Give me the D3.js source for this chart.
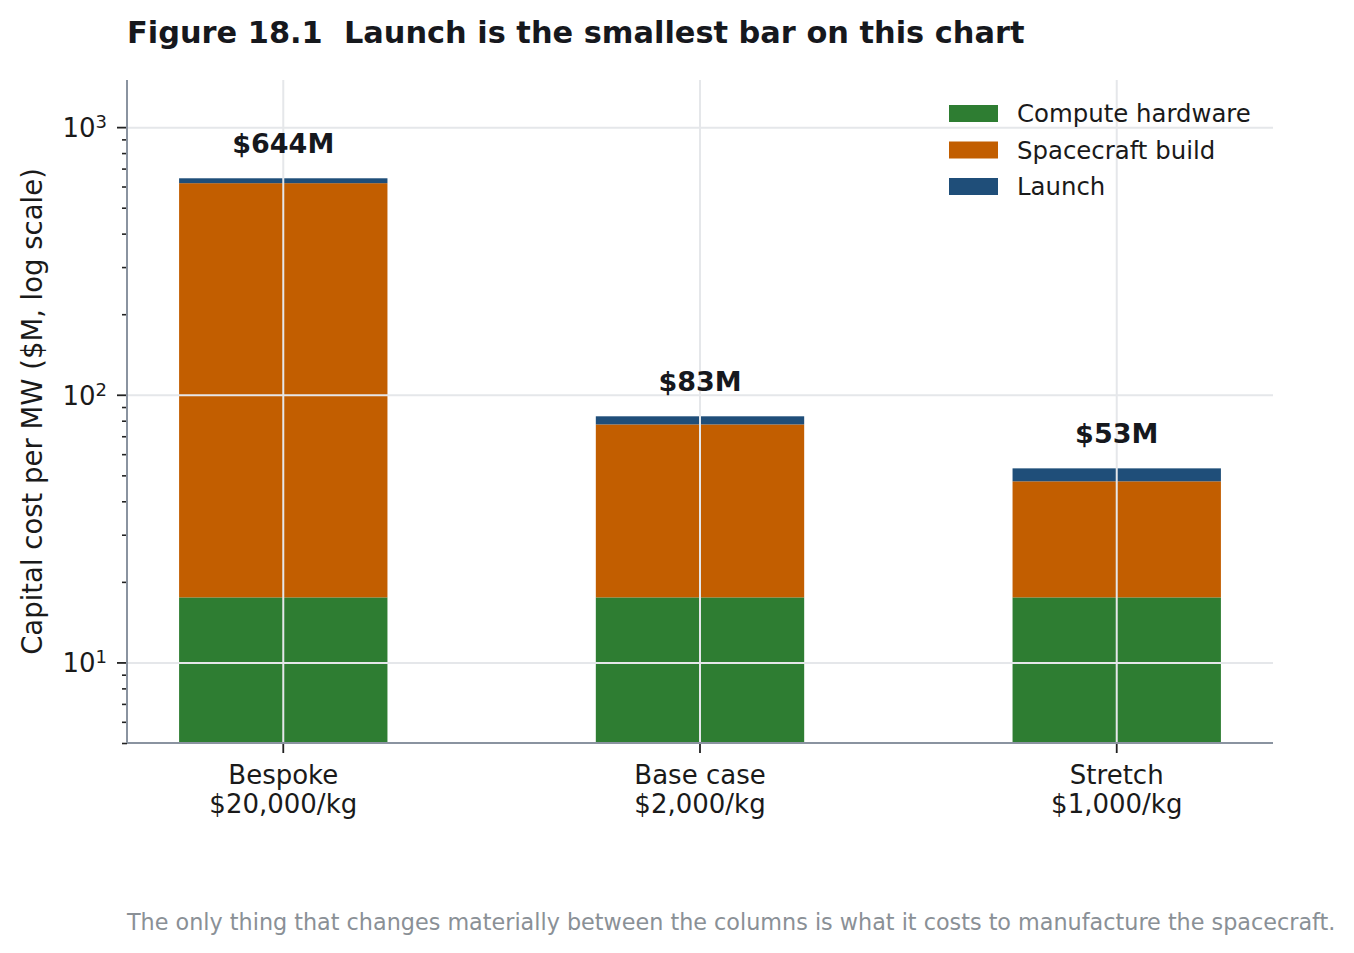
<!DOCTYPE html>
<html>
<head>
<meta charset="utf-8">
<script src="https://cdn.jsdelivr.net/npm/d3@7"></script>
<style>
  body { margin: 0; background: #fff; }
  svg, svg text { font-family: "DejaVu Sans", sans-serif; }
  svg { display: block; }
  .spine { stroke: #8a93a0; stroke-width: 2; }
  .gridline { stroke: #e5e7ea; stroke-width: 2; }
</style>
</head>
<body>
<div id="chart"></div>
<script>
// Figure 18.1 – stacked capital cost per MW, log y

const categories = ["Bespoke", "Base case", "Stretch"];
const priceLabels = ["$20,000/kg", "$2,000/kg", "$1,000/kg"];
const computeHw = [17.5, 17.5, 17.5];
const spacecraftBuild = [600, 60, 30];
const launchCost = [26.5, 5.6, 5.6];
const totalLabels = ["$644M", "$83M", "$53M"];

const seriesKeys = ["compute", "spacecraft", "launch"];
const seriesNames = ["Compute hardware", "Spacecraft build", "Launch"];
const seriesColors = ["#2e7d32", "#c25e00", "#1f4e79"];

const yMajor = [10, 100, 1000];

// dims
const FW = 1354, FH = 953;
const M = { left: 127, right: 81, top: 80, bottom: 210 };
const W = FW - M.left - M.right;
const H = FH - M.top - M.bottom;
const FONT = "'DejaVu Sans', sans-serif";

const color = d3.scaleOrdinal().domain(seriesKeys).range(seriesColors);

const rows = categories.map((c, i) => ({
  cat: c,
  compute: computeHw[i],
  spacecraft: spacecraftBuild[i],
  launch: launchCost[i],
  total: computeHw[i] + spacecraftBuild[i] + launchCost[i],
  label: totalLabels[i],
  price: priceLabels[i]
}));

const stacked = d3.stack().keys(seriesKeys)(rows);

const x = d3.scaleBand().domain(categories).range([0, W]).paddingInner(0.5).paddingOuter(0.125);
const y = d3.scaleLog().domain([5, 1500]).range([H, 0]).clamp(true);

const svg = d3.select("#chart").append("svg").attr("width", FW).attr("height", FH);

svg.append("text")
  .attr("x", M.left).attr("y", 43)
  .style("font-family", FONT).style("white-space", "pre")
  .style("font-size", "30.4px").style("font-weight", "bold").attr("fill", "#16181d")
  .text("Figure 18.1  Launch is the smallest bar on this chart");

const g = svg.append("g").attr("transform", `translate(${M.left},${M.top})`);

// bars
g.append("g").selectAll("g.layer").data(stacked).join("g")
  .attr("class", "layer")
  .attr("fill", d => color(d.key))
  .selectAll("rect").data(d => d).join("rect")
  .attr("x", d => x(d.data.cat))
  .attr("width", x.bandwidth())
  .attr("y", d => y(d[1]))
  .attr("height", d => y(d[0]) - y(d[1]));

// gridlines on top of bars
g.append("g").attr("class", "grid-y")
  .call(d3.axisLeft(y).tickValues(yMajor).tickSize(-W).tickFormat(""))
  .call(s => s.select(".domain").remove())
  .selectAll("line").attr("class", "gridline");
g.append("g").attr("class", "grid-x").attr("transform", `translate(0,${H})`)
  .call(d3.axisBottom(x).tickSize(-H).tickFormat(""))
  .call(s => s.select(".domain").remove())
  .selectAll("line").attr("class", "gridline");

// total labels
g.append("g").selectAll("text").data(rows).join("text")
  .attr("x", d => x(d.cat) + x.bandwidth() / 2)
  .attr("y", d => y(d.total * 1.24))
  .attr("text-anchor", "middle")
  .style("font-family", FONT)
  .style("font-size", "27px").style("font-weight", "bold").attr("fill", "#16181d")
  .text(d => d.label);

// y axis: minor ticks
const minors = [];
[1, 10, 100, 1000].forEach(dec => d3.range(2, 10).forEach(k => {
  const v = dec * k;
  if (v >= 5 && v <= 1500) minors.push(v);
}));
g.append("g").attr("class", "y-minor")
  .call(d3.axisLeft(y).tickValues(minors).tickSize(5).tickFormat(""))
  .call(s => s.select(".domain").remove())
  .selectAll("line").attr("stroke", "#222").attr("stroke-width", 1.6);

// y axis: majors with 10^n labels
const gY = g.append("g").attr("class", "y-axis")
  .call(d3.axisLeft(y).tickValues(yMajor).tickSize(10).tickFormat(""))
  .attr("font-family", null).attr("font-size", null);
gY.select(".domain").remove();
gY.selectAll(".tick line").attr("stroke", "#222").attr("stroke-width", 1.8);
gY.selectAll(".tick text").remove();
gY.selectAll(".tick").append("text")
  .attr("x", -20).attr("dy", "0.36em")
  .attr("text-anchor", "end")
  .attr("fill", "#1a1a1a")
  .style("font-family", FONT)
  .style("font-size", "26px")
  .call(t => {
    t.append("tspan").text("10");
    t.append("tspan").attr("dy", "-0.5em").style("font-size", "18px")
      .text(d => Math.round(Math.log10(d)));
  });

// x axis
const gX = g.append("g").attr("class", "x-axis").attr("transform", `translate(0,${H})`)
  .call(d3.axisBottom(x).tickSize(10).tickFormat(""))
  .attr("font-family", null).attr("font-size", null);
gX.select(".domain").remove();
gX.selectAll(".tick line").attr("stroke", "#222").attr("stroke-width", 1.8);
gX.selectAll(".tick text").remove();
gX.selectAll(".tick").each(function (d, i) {
  const t = d3.select(this).append("text")
    .attr("text-anchor", "middle").attr("fill", "#1a1a1a")
    .style("font-family", FONT)
    .style("font-size", "26px");
  t.append("tspan").attr("x", 0).attr("y", 41).text(d);
  t.append("tspan").attr("x", 0).attr("y", 70).text(rows[i].price);
});

// spines
g.append("line").attr("class", "spine").attr("x1", 0).attr("x2", 0).attr("y1", 0).attr("y2", H);
g.append("line").attr("class", "spine").attr("x1", 0).attr("x2", W).attr("y1", H).attr("y2", H);

// y label
svg.append("text")
  .attr("transform", `translate(42,${M.top + H / 2}) rotate(-90)`)
  .attr("text-anchor", "middle").attr("fill", "#1a1a1a")
  .style("font-family", FONT)
  .style("font-size", "27.5px")
  .text("Capital cost per MW ($M, log scale)");

// legend
const legend = g.append("g").attr("class", "legend").attr("transform", `translate(${W - 324},25)`);
const items = legend.selectAll("g.item").data(seriesKeys).join("g")
  .attr("class", "item")
  .attr("transform", (d, i) => `translate(0,${i * 36.5})`);
items.append("rect").attr("width", 49).attr("height", 17).attr("fill", d => color(d));
items.append("text").attr("x", 68).attr("y", 17)
  .style("font-family", FONT)
  .style("font-size", "24.4px").attr("fill", "#1a1a1a")
  .text((d, i) => seriesNames[i]);

// footnote
svg.append("text")
  .attr("x", M.left).attr("y", 930)
  .style("font-family", FONT)
  .style("font-size", "22.3px").attr("fill", "#8a9096")
  .text("The only thing that changes materially between the columns is what it costs to manufacture the spacecraft.");
</script>
</body>
</html>
